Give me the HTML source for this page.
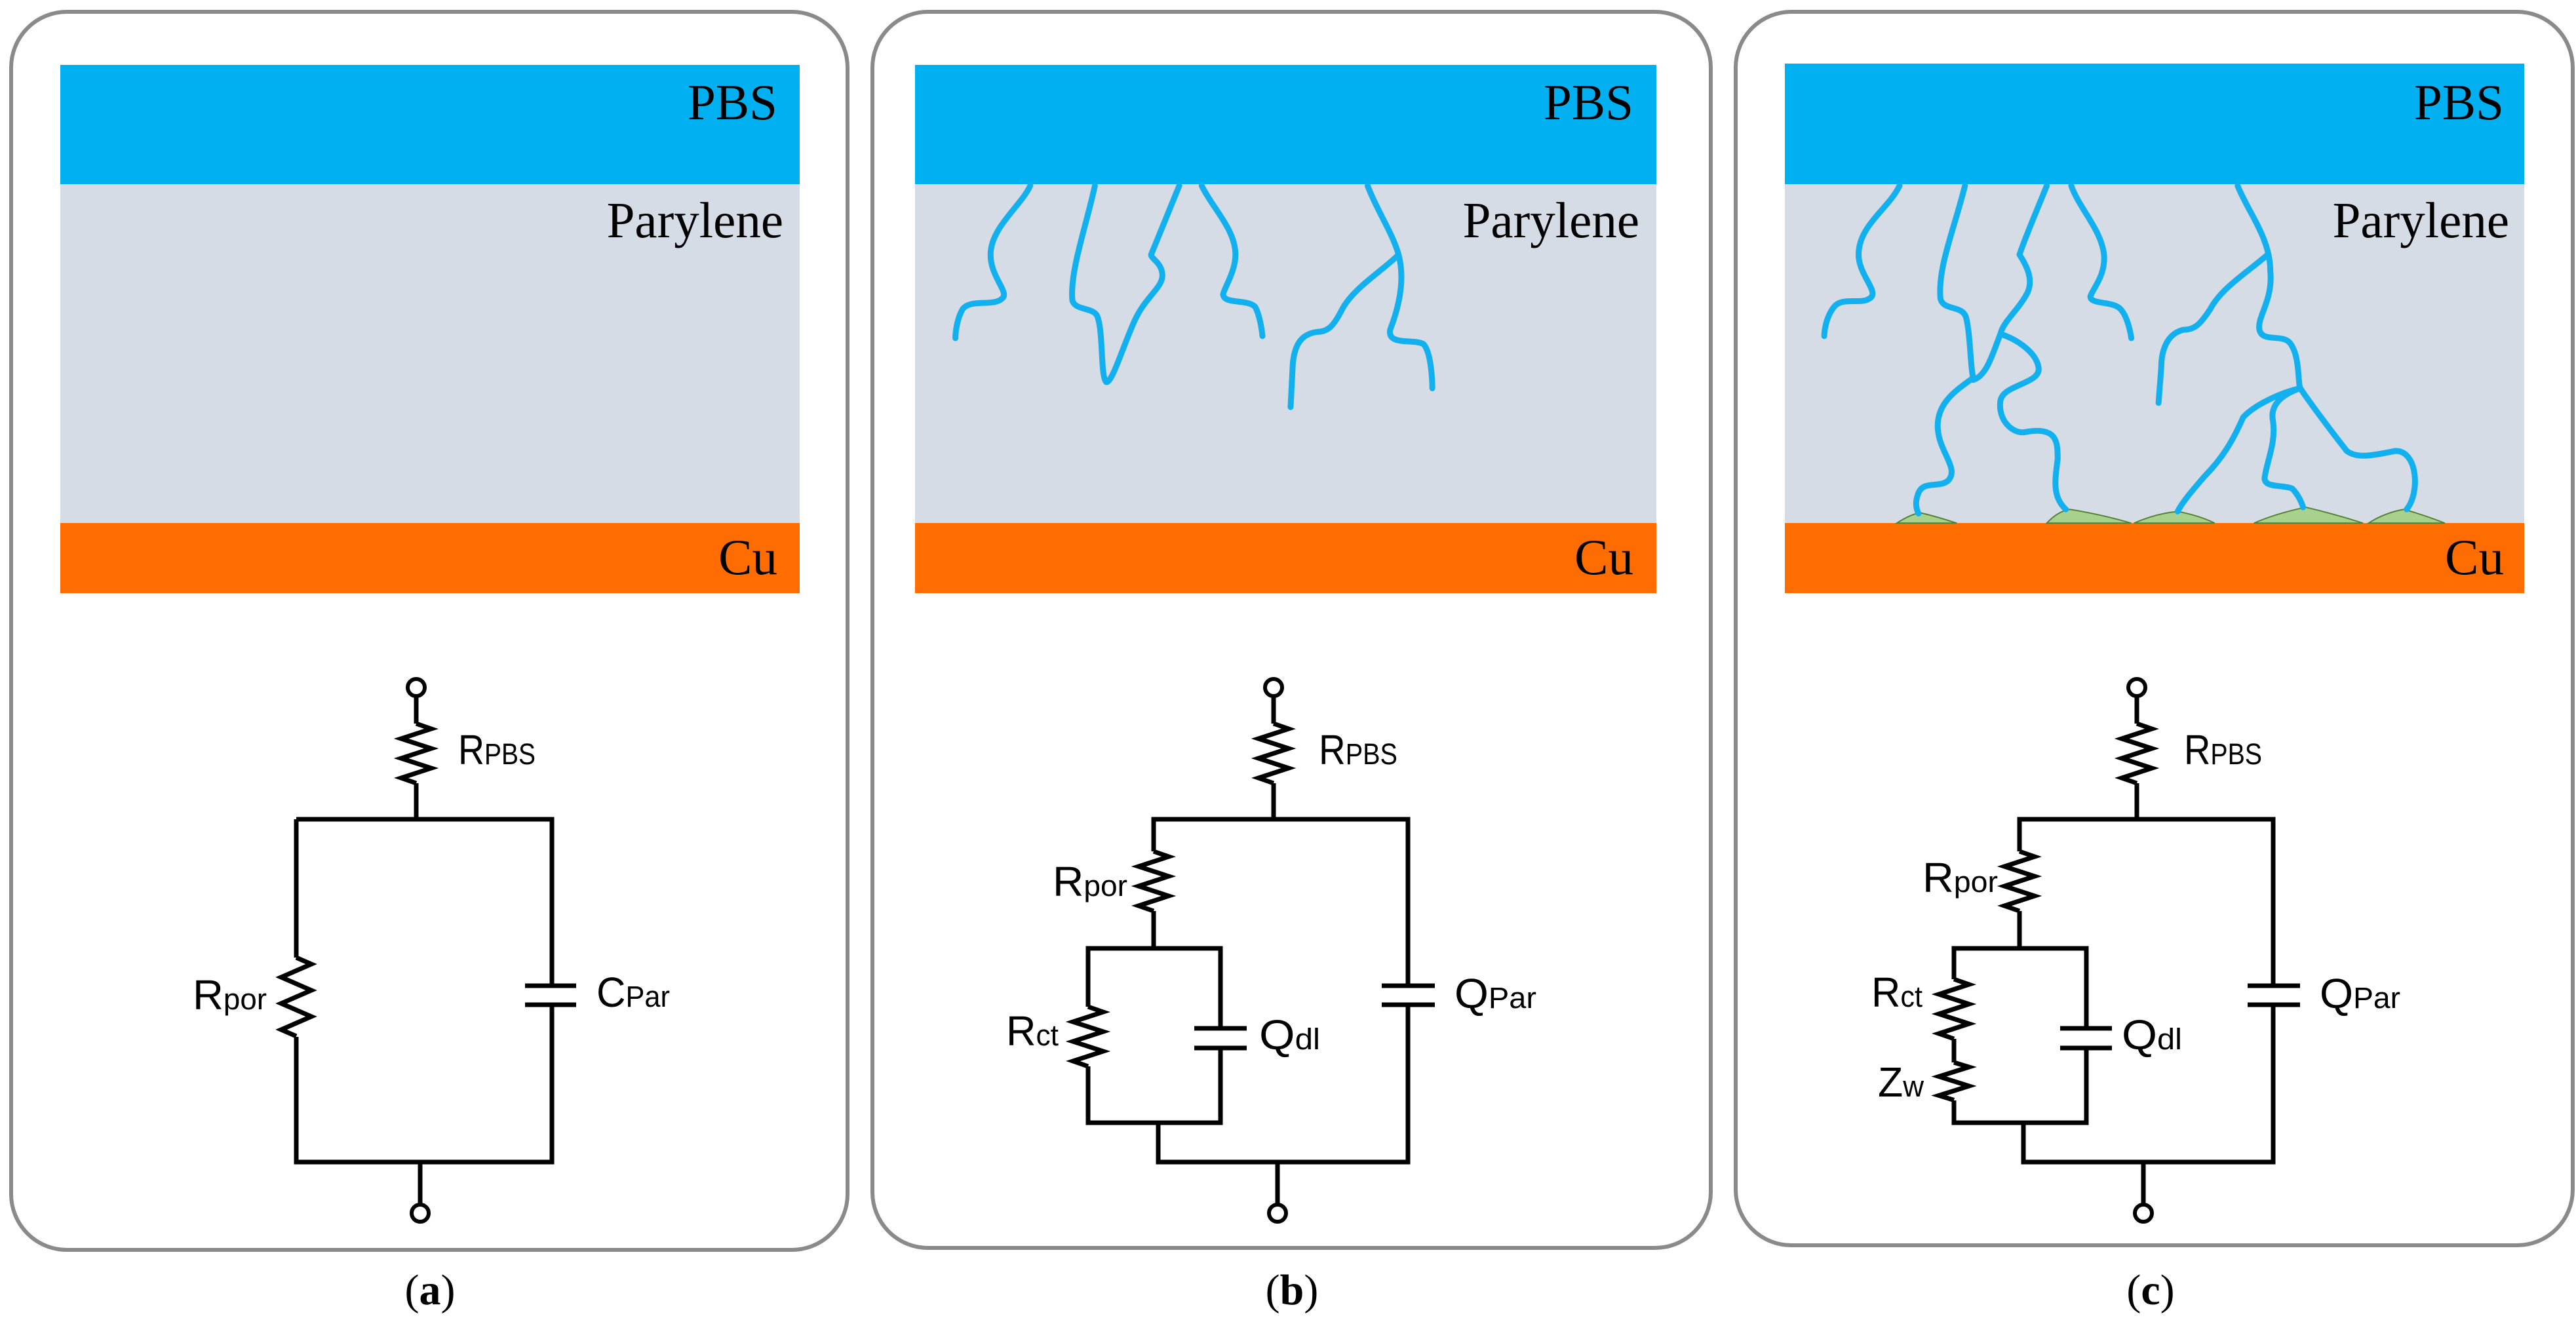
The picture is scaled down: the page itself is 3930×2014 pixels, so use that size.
<!DOCTYPE html>
<html><head><meta charset="utf-8"><style>
html,body{margin:0;padding:0;background:#fff;}
svg{display:block;}
.t{font-family:"Liberation Serif",serif;font-size:77px;fill:#000;}
.l{font-family:"Liberation Sans",sans-serif;font-size:64px;fill:#000;}
.s{font-size:45px;}
.w{fill:none;stroke:#000;stroke-width:7;stroke-linejoin:miter;}
.cr{fill:none;stroke:#12B0EE;stroke-width:9;stroke-linecap:round;stroke-linejoin:round;}
.cap{font-family:"Liberation Serif",serif;font-size:66px;fill:#000;}
</style></head><body>
<svg width="3930" height="2014" viewBox="0 0 3930 2014" xmlns="http://www.w3.org/2000/svg">
<defs>
<path id="r91" d="M0,0 l23,8 l-46,15 l46,15 l-46,15 l46,15 l-46,15 l23,8" class="w"/>
<path id="r120" d="M0,0 l23,10 l-46,20 l46,20 l-46,20 l46,20 l-46,20 l23,10" class="w"/>
<path id="r58" d="M0,0 l23,7 l-46,14.5 l46,14.5 l-46,14.5 l23,7" class="w"/>
</defs>

<rect x="17" y="18" width="1276" height="1889" rx="85" ry="85" fill="#fff" stroke="#8a8a8a" stroke-width="6"/>
<rect x="1331" y="18" width="1279" height="1886" rx="85" ry="85" fill="#fff" stroke="#8a8a8a" stroke-width="6"/>
<rect x="2648" y="18" width="1277" height="1882" rx="85" ry="85" fill="#fff" stroke="#8a8a8a" stroke-width="6"/>

<rect x="92" y="99" width="1128" height="182" fill="#00B0F0"/>
<rect x="92" y="281" width="1128" height="517" fill="#D6DCE5"/>
<rect x="92" y="798" width="1128" height="107" fill="#FF6D00"/>
<text class="t" x="1186" y="182" text-anchor="end">PBS</text>
<text class="t" x="1195" y="362" text-anchor="end">Parylene</text>
<text class="t" x="1186" y="876" text-anchor="end">Cu</text>

<rect x="1396" y="99" width="1131" height="182" fill="#00B0F0"/>
<rect x="1396" y="281" width="1131" height="517" fill="#D6DCE5"/>
<rect x="1396" y="798" width="1131" height="107" fill="#FF6D00"/>
<text class="t" x="2492" y="182" text-anchor="end">PBS</text>
<text class="t" x="2501" y="362" text-anchor="end">Parylene</text>
<text class="t" x="2492" y="876" text-anchor="end">Cu</text>
<g transform="translate(1310,0) scale(0.858,0.637)">
<path class="cr" vector-effect="non-scaling-stroke" d="M305,445 C290,490 240,540 235,600 C230,660 270,700 255,715 C240,735 200,715 185,740 C172,770 172,810 172,810"/>
<path class="cr" vector-effect="non-scaling-stroke" d="M420,445 C405,540 375,650 380,720 C385,745 420,735 425,760 C435,800 430,900 440,915 C450,920 470,830 490,770 C510,710 540,690 540,660 C540,630 520,620 520,610 L570,445"/>
<path class="cr" vector-effect="non-scaling-stroke" d="M610,445 C630,500 670,550 670,610 C670,650 650,690 648,705 C650,730 690,715 705,735 C715,760 718,805 718,805"/>
<path class="cr" vector-effect="non-scaling-stroke" d="M905,445 C920,500 950,560 960,610 C970,660 965,720 945,790 C940,830 990,810 1005,825 C1020,850 1020,930 1020,930"/>
<path class="cr" vector-effect="non-scaling-stroke" d="M960,610 C930,650 880,690 860,740 C845,780 835,795 815,795 C785,800 775,830 772,870 L768,975"/>
</g>

<rect x="2723" y="97" width="1128" height="184" fill="#00B0F0"/>
<rect x="2723" y="281" width="1128" height="517" fill="#D6DCE5"/>
<rect x="2723" y="798" width="1128" height="107" fill="#FF6D00"/>
<text class="t" x="3820" y="182" text-anchor="end">PBS</text>
<text class="t" x="3828" y="362" text-anchor="end">Parylene</text>
<text class="t" x="3820" y="876" text-anchor="end">Cu</text>
<g transform="translate(2640,0) scale(0.832,0.637)">
<g fill="#A9D18E" stroke="#548235" stroke-width="2">
<path vector-effect="non-scaling-stroke" d="M305,1253 Q330,1232 348,1228 Q380,1238 415,1253 Z"/>
<path vector-effect="non-scaling-stroke" d="M580,1253 Q600,1225 622,1220 Q680,1232 735,1253 Z"/>
<path vector-effect="non-scaling-stroke" d="M740,1253 Q780,1230 820,1225 Q860,1235 888,1253 Z"/>
<path vector-effect="non-scaling-stroke" d="M960,1253 Q1000,1230 1055,1215 Q1110,1232 1160,1253 Z"/>
<path vector-effect="non-scaling-stroke" d="M1170,1253 Q1200,1228 1235,1220 Q1275,1235 1310,1253 Z"/>
</g>
<path class="cr" vector-effect="non-scaling-stroke" d="M310,445 C290,500 235,540 235,610 C235,660 275,700 255,715 C240,730 205,710 190,735 C172,765 172,805 172,805"/>
<path class="cr" vector-effect="non-scaling-stroke" d="M430,445 C410,550 380,640 385,715 C390,745 425,730 432,760 C440,800 440,880 445,905"/>
<path class="cr" vector-effect="non-scaling-stroke" d="M445,905 C420,930 380,960 380,1020 C380,1080 420,1120 400,1150 C385,1170 355,1150 345,1180 C335,1210 345,1230 345,1230"/>
<path class="cr" vector-effect="non-scaling-stroke" d="M580,445 C560,510 540,570 530,610 C545,640 555,670 545,700 C530,740 500,770 495,800 C480,850 470,900 445,910"/>
<path class="cr" vector-effect="non-scaling-stroke" d="M495,800 C520,810 560,840 565,880 C570,920 500,920 495,960 C490,1010 520,1040 540,1035 C600,1020 600,1060 600,1100 C595,1150 590,1190 615,1220"/>
<path class="cr" vector-effect="non-scaling-stroke" d="M625,445 C640,500 680,550 685,610 C688,660 665,690 660,710 C660,730 700,720 715,740 C730,760 735,810 735,810"/>
<path class="cr" vector-effect="non-scaling-stroke" d="M930,445 C950,510 990,570 990,650 C995,720 965,760 970,790 C975,820 1010,800 1025,820 C1045,850 1040,920 1045,930 C1060,960 1100,1030 1130,1080 C1150,1100 1180,1090 1220,1080 C1260,1080 1265,1180 1240,1220"/>
<path class="cr" vector-effect="non-scaling-stroke" d="M985,610 C950,650 900,690 880,740 C860,780 850,790 830,790 C800,800 790,840 790,880 L785,965"/>
<path class="cr" vector-effect="non-scaling-stroke" d="M1045,930 C1010,940 960,970 940,1000 C920,1060 900,1100 870,1140 C850,1170 830,1200 820,1225"/>
<path class="cr" vector-effect="non-scaling-stroke" d="M1045,930 C1000,950 990,980 995,1010 C1000,1060 985,1100 980,1140 C975,1170 1010,1160 1030,1170 C1045,1190 1050,1215 1050,1215"/>
</g>

<g>
<circle cx="635" cy="1049" r="13" fill="#fff" stroke="#000" stroke-width="6"/>
<path class="w" d="M635,1062 V1104"/>
<use href="#r91" x="635" y="1104"/>
<path class="w" d="M635,1195 V1250"/>
<path class="w" d="M452,1250 H842 V1504 M842,1533 V1773 H452 V1582 M452,1461 V1250"/>
<use href="#r120" x="452" y="1461"/>
<path class="w" d="M801,1504 H879 M801,1533 H879"/>
<path class="w" d="M641,1773 V1838"/>
<circle cx="641" cy="1851" r="13" fill="#fff" stroke="#000" stroke-width="6"/>
<text class="l" x="699" y="1166" textLength="118" lengthAdjust="spacingAndGlyphs">R<tspan class="s">PBS</tspan></text>
<text class="l" x="294" y="1540" textLength="113" lengthAdjust="spacingAndGlyphs">R<tspan class="s">por</tspan></text>
<text class="l" x="910" y="1536" textLength="112" lengthAdjust="spacingAndGlyphs">C<tspan class="s">Par</tspan></text>
<text class="cap" x="656" y="1990" text-anchor="middle">(<tspan font-weight="bold">a</tspan>)</text>
</g>

<g>
<circle cx="1943" cy="1049" r="13" fill="#fff" stroke="#000" stroke-width="6"/>
<path class="w" d="M1943,1062 V1104"/>
<use href="#r91" x="1943" y="1104"/>
<path class="w" d="M1943,1195 V1250"/>
<path class="w" d="M1760,1299 V1250 H2148 V1504 M2148,1533 V1773 H1767 V1713"/>
<use href="#r91" x="1760" y="1299"/>
<path class="w" d="M1760,1390 V1447 M1660,1536 V1447 H1862 V1569 M1862,1599 V1713 H1660 V1627"/>
<use href="#r91" x="1660" y="1536"/>
<path class="w" d="M1822,1569 H1902 M1822,1599 H1902"/>
<path class="w" d="M2108,1504 H2189 M2108,1533 H2189"/>
<path class="w" d="M1949,1773 V1838"/>
<circle cx="1949" cy="1851" r="13" fill="#fff" stroke="#000" stroke-width="6"/>
<text class="l" x="2012" y="1166" textLength="120" lengthAdjust="spacingAndGlyphs">R<tspan class="s">PBS</tspan></text>
<text class="l" x="1606" y="1367" textLength="114" lengthAdjust="spacingAndGlyphs">R<tspan class="s">por</tspan></text>
<text class="l" x="1535" y="1595" textLength="80" lengthAdjust="spacingAndGlyphs">R<tspan class="s">ct</tspan></text>
<text class="l" x="1921" y="1601" textLength="93" lengthAdjust="spacingAndGlyphs">Q<tspan class="s">dl</tspan></text>
<text class="l" x="2219" y="1538" textLength="125" lengthAdjust="spacingAndGlyphs">Q<tspan class="s">Par</tspan></text>
<text class="cap" x="1971" y="1990" text-anchor="middle">(<tspan font-weight="bold">b</tspan>)</text>
</g>

<g>
<circle cx="3260" cy="1049" r="13" fill="#fff" stroke="#000" stroke-width="6"/>
<path class="w" d="M3260,1062 V1104"/>
<use href="#r91" x="3260" y="1104"/>
<path class="w" d="M3260,1195 V1250"/>
<path class="w" d="M3081,1299 V1250 H3468 V1504 M3468,1533 V1773 H3087 V1713"/>
<use href="#r91" x="3081" y="1299"/>
<path class="w" d="M3081,1390 V1447 M2981,1494 V1447 H3183 V1569 M3183,1599 V1713 H2981 V1679 M2981,1585 V1621"/>
<use href="#r91" x="2981" y="1494"/>
<use href="#r58" x="2981" y="1621"/>
<path class="w" d="M3143,1569 H3222 M3143,1599 H3222"/>
<path class="w" d="M3429,1504 H3509 M3429,1533 H3509"/>
<path class="w" d="M3270,1773 V1838"/>
<circle cx="3270" cy="1851" r="13" fill="#fff" stroke="#000" stroke-width="6"/>
<text class="l" x="3332" y="1166" textLength="119" lengthAdjust="spacingAndGlyphs">R<tspan class="s">PBS</tspan></text>
<text class="l" x="2933" y="1361" textLength="115" lengthAdjust="spacingAndGlyphs">R<tspan class="s">por</tspan></text>
<text class="l" x="2855" y="1536" textLength="78" lengthAdjust="spacingAndGlyphs">R<tspan class="s">ct</tspan></text>
<text class="l" x="2865" y="1673" textLength="70" lengthAdjust="spacingAndGlyphs">Z<tspan class="s">w</tspan></text>
<text class="l" x="3237" y="1601" textLength="92" lengthAdjust="spacingAndGlyphs">Q<tspan class="s">dl</tspan></text>
<text class="l" x="3539" y="1538" textLength="123" lengthAdjust="spacingAndGlyphs">Q<tspan class="s">Par</tspan></text>
<text class="cap" x="3281" y="1990" text-anchor="middle">(<tspan font-weight="bold">c</tspan>)</text>
</g>
</svg>
</body></html>
